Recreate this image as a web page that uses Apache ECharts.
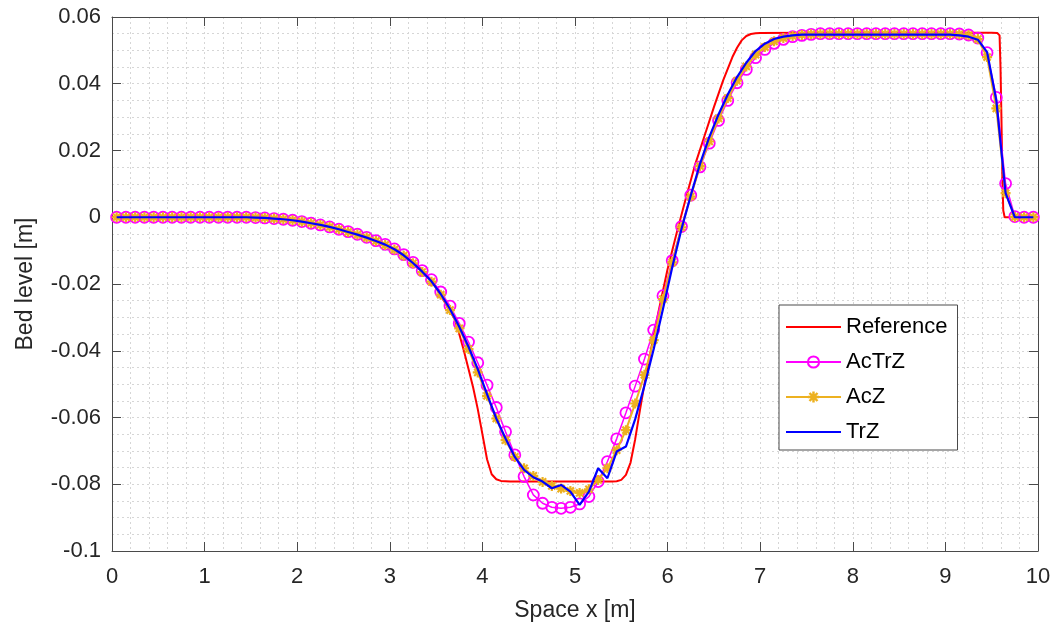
<!DOCTYPE html>
<html>
<head>
<meta charset="utf-8">
<script src="https://cdn.jsdelivr.net/npm/echarts@6/dist/echarts.min.js"></script>
<style>
  html, body { margin: 0; padding: 0; background: #fff; }
  #chart { width: 1058px; height: 633px; }
</style>
</head>
<body>
<div id="chart"></div>
<script>
// Analytical reference bed profile
const refX = [0, 0.5, 1.0, 1.5, 1.6, 1.7, 1.8, 1.9, 2.0, 2.1, 2.2, 2.3, 2.4, 2.5, 2.6, 2.7, 2.8, 2.9, 3.0, 3.1, 3.2, 3.3, 3.4, 3.5, 3.6, 3.7,
  3.75, 3.8, 3.85, 3.9, 3.95, 4.0, 4.05, 4.1, 4.15, 4.2,
  4.3, 4.5, 5.0, 5.4, 5.45, 5.5, 5.55, 5.6, 5.65, 5.7, 5.75, 5.8,
  5.9, 6.0, 6.1, 6.2, 6.3, 6.4, 6.5, 6.6, 6.7,
  6.75, 6.8, 6.85, 6.9, 6.95, 7.0,
  7.5, 8.0, 9.0, 9.5, 9.56,
  9.585, 9.595, 9.605, 9.615, 9.625, 9.64, 9.7, 10];
const refY = [0, 0, 0, 0, -0.0001, -0.0002, -0.0004, -0.0007, -0.001, -0.0014, -0.0019, -0.0024, -0.003, -0.0037, -0.0045, -0.0054, -0.0064, -0.0075, -0.0088, -0.0103, -0.0122, -0.0145, -0.0174, -0.0209, -0.0258, -0.0305,
  -0.035, -0.040, -0.0455, -0.051, -0.0575, -0.065, -0.0725, -0.077, -0.0785, -0.079,
  -0.0792, -0.0792, -0.0792, -0.0792, -0.0791, -0.0787, -0.0772, -0.0735, -0.0665, -0.058, -0.05, -0.0425,
  -0.0285, -0.0155, -0.0045, 0.006, 0.016, 0.0245, 0.033, 0.041, 0.048,
  0.0508, 0.053, 0.0543, 0.0549, 0.0551, 0.0552,
  0.0553, 0.0553, 0.0553, 0.0553, 0.0552,
  0.0545, 0.045, 0.03, 0.012, 0.002, 0, 0, 0];

// Cell centres of the numerical grid (dx = 0.1 m)
const cellX = [
  0.05, 0.15, 0.25, 0.35, 0.45, 0.55, 0.65, 0.75, 0.85, 0.95,
  1.05, 1.15, 1.25, 1.35, 1.45, 1.55, 1.65, 1.75, 1.85, 1.95,
  2.05, 2.15, 2.25, 2.35, 2.45, 2.55, 2.65, 2.75, 2.85, 2.95,
  3.05, 3.15, 3.25, 3.35, 3.45, 3.55, 3.65, 3.75, 3.85, 3.95,
  4.05, 4.15, 4.25, 4.35, 4.45, 4.55, 4.65, 4.75, 4.85, 4.95,
  5.05, 5.15, 5.25, 5.35, 5.45, 5.55, 5.65, 5.75, 5.85, 5.95,
  6.05, 6.15, 6.25, 6.35, 6.45, 6.55, 6.65, 6.75, 6.85, 6.95,
  7.05, 7.15, 7.25, 7.35, 7.45, 7.55, 7.65, 7.75, 7.85, 7.95,
  8.05, 8.15, 8.25, 8.35, 8.45, 8.55, 8.65, 8.75, 8.85, 8.95,
  9.05, 9.15, 9.25, 9.35, 9.45, 9.55, 9.65, 9.75, 9.85, 9.95];

const acTrZ = [
  0, 0, 0, 0, 0, 0, 0, 0, 0, 0,
  0, 0, 0, 0, 0, -0.0001, -0.0002, -0.0004, -0.0006, -0.0009,
  -0.0013, -0.0018, -0.0023, -0.0029, -0.0036, -0.0043, -0.0051, -0.006, -0.007, -0.0081,
  -0.0095, -0.0112, -0.0135, -0.016, -0.0187, -0.0224, -0.0266, -0.0318, -0.0374, -0.0436,
  -0.0503, -0.057, -0.0643, -0.0712, -0.0777, -0.0832, -0.0857, -0.0869, -0.0872, -0.0869,
  -0.0859, -0.0837, -0.0792, -0.0732, -0.0664, -0.0586, -0.0506, -0.0425, -0.0338, -0.0235,
  -0.013, -0.0028, 0.0066, 0.0151, 0.0222, 0.029, 0.035, 0.0403, 0.0443, 0.0478,
  0.0503, 0.0521, 0.0533, 0.0541, 0.0545, 0.0548, 0.055, 0.055, 0.055, 0.055,
  0.055, 0.055, 0.055, 0.055, 0.055, 0.055, 0.055, 0.055, 0.055, 0.055,
  0.055, 0.0549, 0.0546, 0.0537, 0.0493, 0.0359, 0.0101, 0.0002, 0, 0];

const acZ = [
  0, 0, 0, 0, 0, 0, 0, 0, 0, 0,
  0, 0, 0, 0, 0, -0.0001, -0.0002, -0.0004, -0.0006, -0.0009,
  -0.0013, -0.0018, -0.0023, -0.0029, -0.0036, -0.0044, -0.0052, -0.0061, -0.0071, -0.0083,
  -0.0097, -0.0115, -0.0138, -0.0164, -0.0193, -0.0232, -0.0278, -0.0333, -0.0395, -0.0465,
  -0.0535, -0.0603, -0.0668, -0.0718, -0.0752, -0.0775, -0.0793, -0.0805, -0.0813, -0.082,
  -0.0826, -0.0815, -0.0787, -0.0752, -0.0698, -0.0638, -0.0558, -0.0472, -0.0368, -0.0245,
  -0.0135, -0.003, 0.0062, 0.0153, 0.0227, 0.0296, 0.0357, 0.0409, 0.0452, 0.0487,
  0.051, 0.0527, 0.0537, 0.0543, 0.0546, 0.0548, 0.0549, 0.0549, 0.0549, 0.0549,
  0.0549, 0.0549, 0.0549, 0.0549, 0.0549, 0.0549, 0.0549, 0.0549, 0.0549, 0.0549,
  0.0549, 0.0548, 0.0545, 0.0534, 0.048, 0.0326, 0.0072, 0.0001, 0, 0];

const trZ = [
  0, 0, 0, 0, 0, 0, 0, 0, 0, 0,
  0, 0, 0, 0, 0, -0.0001, -0.0002, -0.0004, -0.0006, -0.0009,
  -0.0013, -0.0018, -0.0023, -0.0029, -0.0036, -0.0044, -0.0052, -0.0061, -0.0071, -0.0082,
  -0.0096, -0.0114, -0.0137, -0.0163, -0.0192, -0.023, -0.0275, -0.0328, -0.0388, -0.0455,
  -0.053, -0.0603, -0.0663, -0.0718, -0.0757, -0.0779, -0.0792, -0.0812, -0.0802, -0.0822,
  -0.0862, -0.0822, -0.0752, -0.0782, -0.0702, -0.0687, -0.0605, -0.0505, -0.0395, -0.0275,
  -0.015, -0.0035, 0.0065, 0.016, 0.024, 0.0308, 0.0368, 0.042, 0.0463, 0.0498,
  0.052, 0.0534, 0.0541, 0.0545, 0.0547, 0.0547, 0.0547, 0.0547, 0.0547, 0.0547,
  0.0547, 0.0547, 0.0547, 0.0547, 0.0547, 0.0547, 0.0547, 0.0547, 0.0547, 0.0547,
  0.0547, 0.0545, 0.0541, 0.0532, 0.0495, 0.035, 0.0072, 0, 0, 0];

const seriesNames = ['Reference', 'AcTrZ', 'AcZ', 'TrZ'];

// Axis ranges
const xRange = [0, 10, 1];
const yRange = [-0.1, 0.06, 0.02];

const zip = (xs, ys) => xs.map((x, i) => [x, ys[i]]);

const FONT = '"Liberation Sans", Arial, Helvetica, sans-serif';
const AXIS_COLOR = '#4a4a4a';
const TEXT_COLOR = '#262626';
const GRID_LINE = { color: '#d6d6d6', width: 1, type: [2, 3] };

const MAGENTA = '#ff00ff';
const ORANGE = '#edb120';

// eight-spoke asterisk marker, spokes as filled bars
const ASTERISK = 'path://M7.8 0L12.2 0L12.2 20L7.8 20Z M0 7.8L20 7.8L20 12.2L0 12.2Z ' +
  'M4.4 1.3L18.7 15.6L15.6 18.7L1.3 4.4Z ' +
  'M15.6 1.3L18.7 4.4L4.4 18.7L1.3 15.6Z';

const chart = echarts.init(document.getElementById('chart'), null, { renderer: 'canvas' });

const numFmt = v => String(+(+v).toFixed(3));

const baseX = {
  type: 'value', min: xRange[0], max: xRange[1], interval: xRange[2],
  axisLine: { show: true, onZero: false, lineStyle: { color: AXIS_COLOR, width: 1 } },
  axisTick: { show: true, inside: true, length: 9, lineStyle: { color: AXIS_COLOR } },
  minorTick: { show: false, splitNumber: 5 },
};
const baseY = {
  type: 'value', min: yRange[0], max: yRange[1], interval: yRange[2],
  axisLine: { show: true, onZero: false, lineStyle: { color: AXIS_COLOR, width: 1 } },
  axisTick: { show: true, inside: true, length: 9, lineStyle: { color: AXIS_COLOR } },
  minorTick: { show: false, splitNumber: 4 },
};

const noSymbol = { color: 'rgba(0,0,0,0)', borderWidth: 0, opacity: 0 };

chart.setOption({
  animation: false,
  backgroundColor: '#ffffff',
  textStyle: { fontFamily: FONT },
  grid: { left: 112, right: 20, top: 17, bottom: 82, containLabel: false },
  legend: {
    data: [
      { name: seriesNames[0], itemStyle: noSymbol },
      { name: seriesNames[1] },
      { name: seriesNames[2] },
      { name: seriesNames[3], itemStyle: noSymbol }
    ],
    orient: 'vertical',
    left: 779, top: 305,
    padding: [10, 10, 6, 6],
    itemWidth: 55, itemHeight: 14, itemGap: 11,
    backgroundColor: '#ffffff',
    borderColor: AXIS_COLOR, borderWidth: 1, borderRadius: 0,
    textStyle: { fontFamily: FONT, fontSize: 22, color: '#000', lineHeight: 24 },
    selectedMode: false
  },
  xAxis: [
    Object.assign({}, baseX, {
      position: 'bottom',
      name: 'Space x [m]', nameLocation: 'middle', nameGap: 48,
      nameTextStyle: { fontFamily: FONT, fontSize: 23, color: TEXT_COLOR },
      axisLabel: { show: true, margin: 15, fontSize: 22, color: TEXT_COLOR, fontFamily: FONT, formatter: numFmt },
      splitLine: { show: true, lineStyle: GRID_LINE },
      minorSplitLine: { show: true, lineStyle: GRID_LINE }
    }),
    Object.assign({}, baseX, {
      position: 'top',
      axisLabel: { show: false },
      splitLine: { show: false }
    })
  ],
  yAxis: [
    Object.assign({}, baseY, {
      position: 'left',
      name: 'Bed level [m]', nameLocation: 'middle', nameGap: 75, nameRotate: 90,
      nameTextStyle: { fontFamily: FONT, fontSize: 23, color: TEXT_COLOR },
      axisLabel: { show: true, margin: 11, fontSize: 22, color: TEXT_COLOR, fontFamily: FONT, formatter: numFmt },
      splitLine: { show: true, lineStyle: GRID_LINE },
      minorSplitLine: { show: true, lineStyle: GRID_LINE }
    }),
    Object.assign({}, baseY, {
      position: 'right',
      axisLabel: { show: false },
      splitLine: { show: false }
    })
  ],
  series: [
    {
      name: 'Reference', type: 'line', xAxisIndex: 0, yAxisIndex: 0,
      data: zip(refX, refY), symbol: 'none', smooth: false,
      lineStyle: { color: '#ff0000', width: 2 }, itemStyle: { color: '#ff0000' },
      emphasis: { disabled: true }, z: 2
    },
    {
      name: 'AcTrZ', type: 'line', xAxisIndex: 0, yAxisIndex: 0,
      data: zip(cellX, acTrZ), symbol: 'circle', symbolSize: 11, showAllSymbol: true,
      lineStyle: { color: MAGENTA, width: 1.5 },
      itemStyle: { color: 'rgba(255,0,255,0)', borderColor: MAGENTA, borderWidth: 1.8 },
      emphasis: { disabled: true }, z: 3
    },
    {
      name: 'AcZ', type: 'line', xAxisIndex: 0, yAxisIndex: 0,
      data: zip(cellX, acZ), symbol: ASTERISK, symbolSize: 10, showAllSymbol: true,
      lineStyle: { color: ORANGE, width: 2 },
      itemStyle: { color: ORANGE, borderWidth: 0 },
      emphasis: { disabled: true }, z: 4
    },
    {
      name: 'TrZ', type: 'line', xAxisIndex: 0, yAxisIndex: 0,
      data: zip(cellX, trZ), symbol: 'none',
      lineStyle: { color: '#0000ff', width: 2.2 }, itemStyle: { color: '#0000ff' },
      emphasis: { disabled: true }, z: 5
    }
  ]
});
</script>
</body>
</html>
